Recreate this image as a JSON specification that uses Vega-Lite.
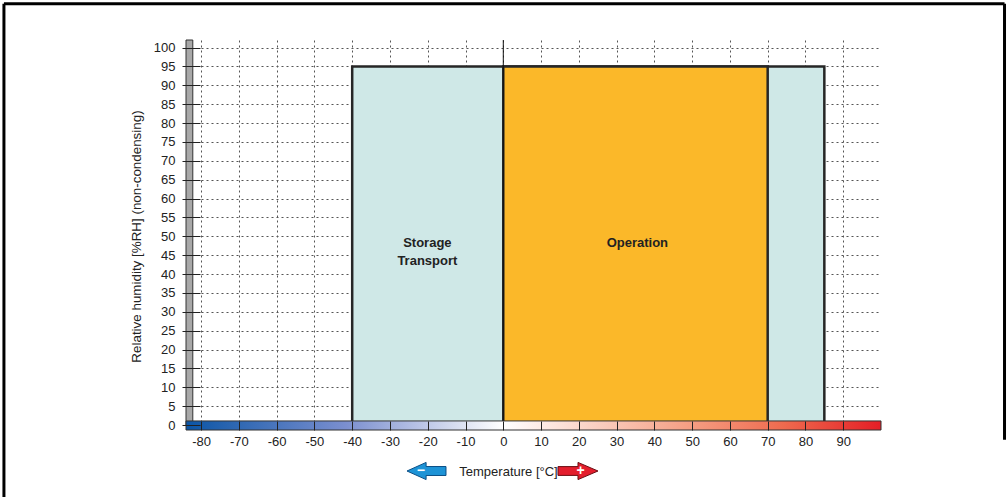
{
  "$schema": "https://vega.github.io/schema/vega-lite/v6.json",
  "width": 695,
  "height": 390,
  "autosize": {"type": "none"},
  "padding": {"left": 186, "top": 40, "right": 127, "bottom": 67},
  "background": "white",
  "data": {"values": [{}]},
  "config": {
    "view": {"stroke": null},
    "font": "Liberation Sans, Arial, sans-serif"
  },
  "datasets": {
    "zones": [
      {"zone": "Storage / Transport", "tmin": -40, "tmax": 85, "hmin": 0, "hmax": 95},
      {"zone": "Operation", "tmin": 0, "tmax": 70, "hmin": 0, "hmax": 95}
    ],
    "labels": [
      {"label": ["Storage", "Transport"], "t": -20.1, "h": 48.2},
      {"label": ["Operation"], "t": 35.5, "h": 48.2}
    ]
  },
  "resolve": {"axis": {"x": "independent", "y": "independent"}},
  "layer": [
    {
      "data": {"name": "zones"},
      "mark": {"type": "rect", "stroke": "#262626", "strokeWidth": 2.5},
      "encoding": {
        "x": {"field": "tmin", "type": "quantitative", "scale": {"domain": [-84, 100], "nice": false, "zero": false},
          "axis": {"orient": "bottom", "grid": true, "ticks": false, "labels": false, "domain": false, "title": null, "zindex": 0,
            "values": [-80, -70, -60, -50, -40, -30, -20, -10, 0, 10, 20, 30, 40, 50, 60, 70, 80, 90],
            "gridColor": "#555555", "gridDash": [2, 3], "gridWidth": 1, "gridOpacity": 1}},
        "x2": {"field": "tmax"},
        "y": {"field": "hmin", "type": "quantitative", "scale": {"domain": [-1.3, 102], "nice": false, "zero": false},
          "axis": {"orient": "left", "grid": true, "ticks": false, "labels": false, "domain": false, "title": null, "zindex": 0,
            "values": [5, 10, 15, 20, 25, 30, 35, 40, 45, 50, 55, 60, 65, 70, 75, 80, 85, 90, 95, 100],
            "gridColor": "#555555", "gridDash": [2, 3], "gridWidth": 1, "gridOpacity": 1}},
        "y2": {"field": "hmax"},
        "fill": {"field": "zone", "type": "nominal", "scale": {"domain": ["Storage / Transport", "Operation"], "range": ["#cfe8e7", "#fbb829"]}, "legend": null}
      }
    },
    {
      "mark": {"type": "rule", "color": "#111111", "strokeWidth": 1},
      "encoding": {
        "x": {"datum": 0, "type": "quantitative", "scale": {"domain": [-84, 100], "nice": false, "zero": false}, "axis": null}
      }
    },
    {
      "data": {"name": "labels"},
      "mark": {"type": "text", "fontWeight": "bold", "fontSize": 13, "color": "#222222", "lineHeight": 18, "baseline": "middle", "align": "center"},
      "encoding": {
        "x": {"field": "t", "type": "quantitative", "scale": {"domain": [-84, 100], "nice": false, "zero": false}, "axis": null},
        "y": {"field": "h", "type": "quantitative", "scale": {"domain": [-1.3, 102], "nice": false, "zero": false}, "axis": null},
        "text": {"field": "label"}
      }
    },
    {
      "mark": {"type": "rect", "stroke": "#333333", "strokeWidth": 1, "fill": "#a8a8a8"},
      "encoding": {
        "x": {"datum": -84, "type": "quantitative", "scale": {"domain": [-84, 100], "nice": false, "zero": false}, "axis": null},
        "x2": {"datum": -82.2},
        "y": {"datum": 0, "type": "quantitative", "scale": {"domain": [-1.3, 102], "nice": false, "zero": false}, "axis": null},
        "y2": {"datum": 102}
      }
    },
    {
      "mark": {
        "type": "rect", "stroke": "#333333", "strokeWidth": 1,
        "fill": {
          "gradient": "linear", "x1": 0, "x2": 1, "y1": 0, "y2": 0,
          "stops": [
            {"offset": 0, "color": "#0b55a5"},
            {"offset": 0.23, "color": "#7b8fcf"},
            {"offset": 0.4565, "color": "#ffffff"},
            {"offset": 0.72, "color": "#f5a085"},
            {"offset": 0.86, "color": "#ef6a4e"},
            {"offset": 1, "color": "#e41e26"}
          ]
        }
      },
      "encoding": {
        "x": {"datum": -84, "type": "quantitative", "scale": {"domain": [-84, 100], "nice": false, "zero": false},
          "axis": {"orient": "bottom", "grid": false, "domain": false, "zindex": 1, "tickSize": -9, "tickColor": "#222222", "tickWidth": 1,
            "labelPadding": 14, "labelFontSize": 13, "labelColor": "#222222", "labelExpr": "'' + datum.value",
            "values": [-80, -70, -60, -50, -40, -30, -20, -10, 0, 10, 20, 30, 40, 50, 60, 70, 80, 90],
            "title": "Temperature [°C]", "titleFontSize": 13, "titleFontWeight": "normal", "titleColor": "#222222",
            "titleX": 322, "titleY": 41, "titleBaseline": "middle", "titleAlign": "center"}},
        "x2": {"datum": 100},
        "y": {"datum": -1.3, "type": "quantitative", "scale": {"domain": [-1.3, 102], "nice": false, "zero": false},
          "axis": {"orient": "left", "grid": false, "domain": false, "zindex": 1, "offset": 4, "tickSize": -18, "tickColor": "#222222", "tickWidth": 1,
            "labelPadding": 25, "labelFontSize": 13, "labelColor": "#222222",
            "values": [0, 5, 10, 15, 20, 25, 30, 35, 40, 45, 50, 55, 60, 65, 70, 75, 80, 85, 90, 95, 100],
            "title": "Relative humidity [%RH] (non-condensing)", "titleFontSize": 13.4, "titleFontWeight": "normal", "titleColor": "#222222",
            "titleX": -46, "titleY": 196, "titleBaseline": "middle", "titleAlign": "center", "titleAngle": 270}},
        "y2": {"datum": 1.1}
      }
    },
    {
      "mark": {"type": "point", "filled": true, "fill": "#1d93d6", "stroke": "#0b4f86", "strokeWidth": 1, "opacity": 1,
        "shape": "M-1,0L-0.02,-0.44L-0.02,-0.23L1,-0.23L1,0.23L-0.02,0.23L-0.02,0.44Z", "size": 1521},
      "encoding": {
        "x": {"datum": -20.33, "type": "quantitative", "scale": {"domain": [-84, 100], "nice": false, "zero": false}, "axis": null},
        "y": {"datum": -12.16, "type": "quantitative", "scale": {"domain": [-1.3, 102], "nice": false, "zero": false}, "axis": null}
      }
    },
    {
      "mark": {"type": "point", "filled": true, "fill": "#e31e2d", "stroke": "#6b0e13", "strokeWidth": 1, "opacity": 1,
        "shape": "M1,0L0,-0.43L0,-0.22L-1,-0.22L-1,0.22L0,0.22L0,0.43Z", "size": 1600},
      "encoding": {
        "x": {"datum": 19.78, "type": "quantitative", "scale": {"domain": [-84, 100], "nice": false, "zero": false}, "axis": null},
        "y": {"datum": -12.16, "type": "quantitative", "scale": {"domain": [-1.3, 102], "nice": false, "zero": false}, "axis": null}
      }
    },
    {
      "mark": {"type": "text", "text": "−", "fontWeight": "bold", "fontSize": 14, "color": "white", "baseline": "middle", "align": "center"},
      "encoding": {
        "x": {"datum": -21.8, "type": "quantitative", "scale": {"domain": [-84, 100], "nice": false, "zero": false}, "axis": null},
        "y": {"datum": -12.16, "type": "quantitative", "scale": {"domain": [-1.3, 102], "nice": false, "zero": false}, "axis": null}
      }
    },
    {
      "mark": {"type": "text", "text": "+", "fontWeight": "bold", "fontSize": 14, "color": "white", "baseline": "middle", "align": "center"},
      "encoding": {
        "x": {"datum": 20.44, "type": "quantitative", "scale": {"domain": [-84, 100], "nice": false, "zero": false}, "axis": null},
        "y": {"datum": -12.16, "type": "quantitative", "scale": {"domain": [-1.3, 102], "nice": false, "zero": false}, "axis": null}
      }
    },
    {
      "mark": {"type": "rule", "color": "#000000", "strokeWidth": 3},
      "encoding": {
        "x": {"datum": -132.2, "type": "quantitative", "scale": {"domain": [-84, 100], "nice": false, "zero": false}, "axis": null},
        "y": {"datum": -20, "type": "quantitative", "scale": {"domain": [-1.3, 102], "nice": false, "zero": false}, "axis": null},
        "y2": {"datum": 111.6}
      }
    },
    {
      "mark": {"type": "rule", "color": "#000000", "strokeWidth": 3},
      "encoding": {
        "x": {"datum": -132.2, "type": "quantitative", "scale": {"domain": [-84, 100], "nice": false, "zero": false}, "axis": null},
        "x2": {"datum": 132.7},
        "y": {"datum": 111.6, "type": "quantitative", "scale": {"domain": [-1.3, 102], "nice": false, "zero": false}, "axis": null}
      }
    },
    {
      "mark": {"type": "rule", "color": "#000000", "strokeWidth": 3},
      "encoding": {
        "x": {"datum": 132.7, "type": "quantitative", "scale": {"domain": [-84, 100], "nice": false, "zero": false}, "axis": null},
        "y": {"datum": -3.9, "type": "quantitative", "scale": {"domain": [-1.3, 102], "nice": false, "zero": false}, "axis": null},
        "y2": {"datum": 111.6}
      }
    }
  ]
}
